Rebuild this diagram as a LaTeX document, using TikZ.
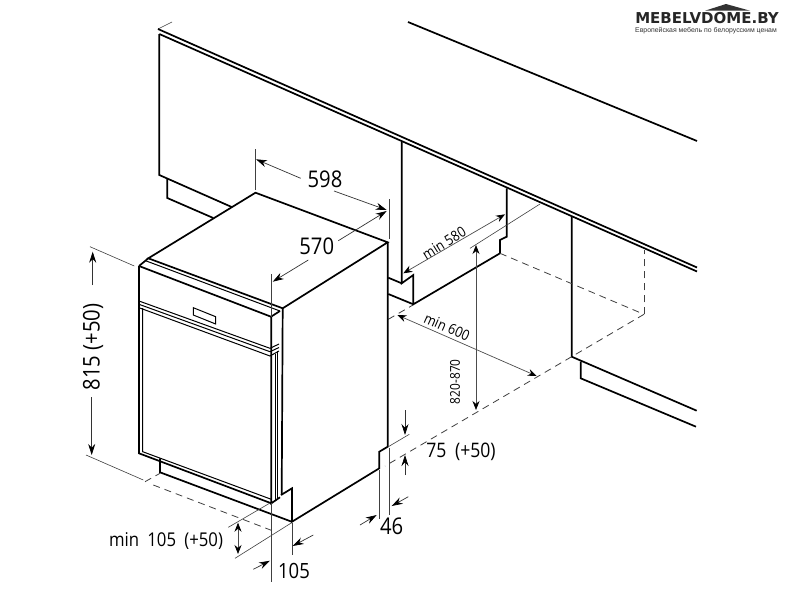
\documentclass[tikz,border=0pt]{standalone}
\usepackage{fontspec}
\setmainfont{Open Sans}[FakeStretch=0.88]
\newfontfamily\logofont{DejaVu Sans}
\newfontfamily\subfont{Liberation Sans}
\usetikzlibrary{arrows.meta}
\tikzset{
    outline/.style={line width=1.7pt, black, line join=miter},
    panel/.style={line width=1pt, black},
    extline/.style={line width=0.6pt, black!75},
    floorline/.style={line width=0.8pt, black!75, dash pattern=on 7pt off 5pt},
    dimarrow/.style={line width=0.7pt, black!80, -{Stealth[length=11pt, width=7pt, black]}},
    dimboth/.style={line width=0.7pt, black!70, {Stealth[length=9pt, width=7pt, black]}-{Stealth[length=9pt, width=7pt, black]}},
    biglabel/.style={font=\fontsize{23}{23}\selectfont, inner sep=0pt},
    midlabel/.style={font=\fontsize{20}{20}\selectfont, inner sep=0pt},
    smalllabel/.style={font=\fontsize{14.5}{14.5}\selectfont, inner sep=0pt}
}
\begin{document}
\begin{tikzpicture}[x=1pt, y=-1pt]
    \useasboundingbox (0, 0) rectangle (786, 590);
    \fill[white] (0, 0) rectangle (786, 590);

    \draw[extline] (158, 29) -- (172, 22);
    \draw[outline] (158, 29) -- (697, 267.5);
    \draw[outline] (159.3, 34) -- (697, 271.5);
    \draw[outline] (408, 22) -- (697, 141);
    \draw[outline] (159.3, 34) -- (159.3, 175) -- (231.7, 207);
    \draw[outline] (167.3, 178) -- (167.3, 198) -- (213.3, 218);
    \draw[outline] (401.7, 141.7) -- (401.7, 283.3) -- (413.3, 275) -- (413.3, 304.3) -- (500, 253.3) -- (500, 240) -- (506.7, 236.7) -- (506.7, 188.3);
    \draw[outline] (388.3, 277.7) -- (401.7, 283.3);
    \draw[outline] (388.3, 294) -- (413.3, 304.3);
    \draw[outline] (571.7, 216) -- (571.7, 356.7) -- (696.7, 410.7);
    \draw[outline] (580.7, 361.7) -- (580.7, 378.3) -- (696, 426.7);

    \draw[floorline] (500, 253.3) -- (644, 314.3);
    \draw[floorline] (644, 314.3) -- (644, 250);
    \draw[floorline] (644, 314.3) -- (385, 466);
    \draw[floorline] (388.3, 319.3) -- (413, 305);
    \draw[floorline] (153.3, 485) -- (275, 531.7);
    \draw[floorline] (145, 481.7) -- (160, 473.3);

    \draw[outline] (148.3, 258.3) -- (255.5, 192.7) -- (387.7, 242.3) -- (282.7, 308.3) -- cycle;
    \draw[outline] (387.7, 242.3) -- (387.7, 446.7) -- (379.3, 451.7) -- (379.3, 468.3) -- (292, 521.7) -- (292, 488.3) -- (281, 495);
    \draw[outline] (282.7, 308.3) -- (281.7, 495);
    \draw[outline] (139, 266) -- (148.3, 258.3);
    \draw[panel] (145, 260.5) -- (280, 311);
    \draw[outline] (139, 266) -- (271, 316.7) -- (280, 311);
    \draw[outline] (139, 266) -- (139, 453.3) -- (271.3, 503.3);
    \draw[panel] (142.7, 308) -- (142.7, 451.7) -- (271.3, 499.3);
    \draw[outline] (271.3, 316.7) -- (271.3, 503.3) -- (280, 497.3);
    \draw[panel] (275, 354) -- (275, 501);
    \draw[panel] (277.7, 351) -- (277.7, 498);
    \draw[panel] (139, 301) -- (270, 348.3) -- (279, 344);
    \draw[panel] (139, 304.3) -- (270, 351.7) -- (279, 347.5);
    \draw[panel] (139, 307.7) -- (270, 356) -- (279, 351);
    \draw[panel] (193.3, 307.7) -- (215.7, 316.7) -- (215.7, 324) -- (193.3, 315) -- cycle;
    \draw[outline] (160, 458.3) -- (160, 472.3) -- (291.7, 521.7);

    \draw[extline] (255.3, 149.3) -- (255.3, 190);
    \draw[extline] (389, 199.3) -- (389, 239.3);
    \draw[extline] (271, 274.3) -- (271, 316.7);
    \draw[extline] (90, 246.7) -- (134.3, 266);
    \draw[extline] (86, 455) -- (143.3, 480);
    \draw[extline] (228.3, 527.3) -- (270, 503);
    \draw[extline] (235, 558.3) -- (291.7, 522.7);
    \draw[extline] (271, 503.3) -- (271, 581.7);
    \draw[extline] (292, 522.7) -- (292, 555);
    \draw[extline] (379.3, 470) -- (379.3, 519.3);
    \draw[extline] (389.3, 448.3) -- (389.3, 515);
    \draw[extline] (388.3, 446.7) -- (409.3, 434.3);
    \draw[extline] (470, 248.3) -- (540, 204);

    \draw[dimarrow] (300.7, 178.3) -- (256, 159.3);
    \draw[dimarrow] (334, 191) -- (386.7, 210);
    \draw[dimarrow] (338.3, 240.7) -- (386.7, 211);
    \draw[dimarrow] (308.3, 260) -- (272.7, 281.7);
    \draw[dimarrow] (92.7, 285) -- (92.7, 251.7);
    \draw[dimarrow] (91.7, 397) -- (91.7, 455);
    \draw[dimboth] (238, 522.7) -- (238, 554);
    \draw[dimarrow] (253.3, 569.3) -- (270, 560.7);
    \draw[dimarrow] (313.3, 535) -- (292.7, 546);
    \draw[dimarrow] (360, 525) -- (376.7, 515);
    \draw[dimarrow] (408.3, 496.7) -- (391.7, 506);
    \draw[dimarrow] (405, 410) -- (405, 435);
    \draw[dimarrow] (405, 475) -- (405, 455);
    \draw[dimboth] (403.3, 273.3) -- (505, 214.3);
    \draw[dimboth] (476, 245) -- (476, 410);
    \draw[dimboth] (397.3, 315) -- (536.7, 376);

    \node[biglabel] (width) at (325, 179) {598};
    \node[biglabel] (depth) at (316.7, 246) {570};
    \node[biglabel, rotate=90] (height) at (93, 347) {815 (+50)};
    \node[biglabel] (sidegap) at (391.7, 526.7) {46};
    \node[midlabel] (plinth) at (461, 452) {75\hspace{4pt} (+50)};
    \node[font=\fontsize{21}{21}\selectfont, inner sep=0pt] (foot) at (294, 570.7) {105};
    \node[font=\fontsize{19}{19}\selectfont, inner sep=0pt] (plinthdepth) at (166, 541) {min\hspace{4pt} 105\hspace{4pt} (+50)};
    \node[smalllabel, rotate=32] (nichedepth) at (444, 243) {min 580};
    \node[smalllabel, rotate=-24] (nichewidth) at (447, 327) {min 600};
    \node[font=\fontsize{13.5}{13.5}\selectfont, inner sep=0pt, rotate=90] (nicheheight) at (455, 381.7) {820-870};

    \fill[black!80] (705, 10.7) -- (726, 4) -- (750, 10.7) -- cycle;
    \node[font=\logofont\bfseries\fontsize{15}{15}\selectfont, inner sep=0pt, black!85] (logo) at (707, 18.5) {MEBELVDOME.BY};
    \node[font=\subfont\fontsize{6.9}{6.9}\selectfont, inner sep=0pt, black!80] (slogan) at (706, 30.5) {Европейская мебель по белорусским ценам};
\end{tikzpicture}
\end{document}
